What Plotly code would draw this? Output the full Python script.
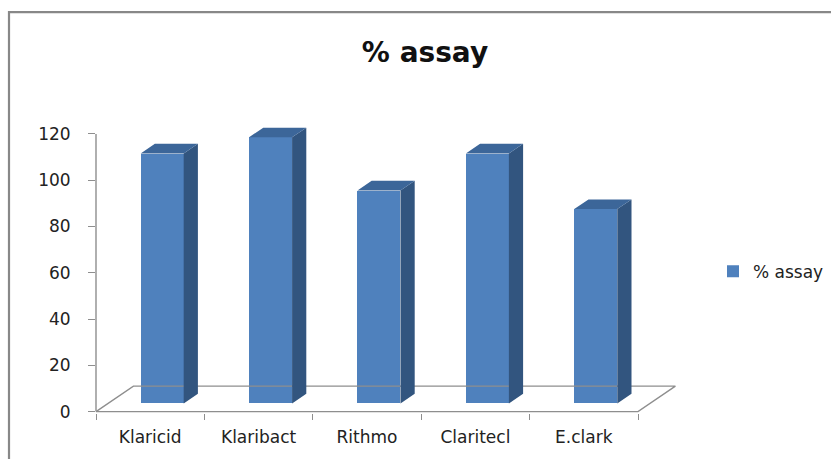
import plotly.graph_objects as go

# ---- data ----
categories = ["Klaricid", "Klaribact", "Rithmo", "Claritecl", "E.clark"]
assay = [108, 115, 92, 108, 84]
y_ticks = [0, 20, 40, 60, 80, 100, 120]
series_name = "% assay"
chart_title = "% assay"

# ---- layout geometry (pixels) ----
W, H = 831, 459
X0_PX, UX = 96.0, 108.4      # pixel of x=-0.5, px per category
Y0_PX, UY = 412.0, 2.317     # pixel of y=0, px per unit
x_range = [-0.5, (825 - X0_PX) / UX - 0.5]
y_range = [-0.6, 126]
L = X0_PX + (x_range[0] + 0.5) * UX
R = W - (X0_PX + (x_range[1] + 0.5) * UX)
T = Y0_PX - y_range[1] * UY
B = H - (Y0_PX - y_range[0] * UY)
PW, PH = W - L - R, H - T - B


def px(xp):
    return (xp - L) / PW


def py(yp):
    return (H - B - yp) / PH


# 3D depth (data units)
DX, DY = 0.345, 11.0     # floor depth
F0, FD = 0.32, 0.38      # bar front depth fraction, bar depth fraction
BW = 0.397               # bar width

FRONT = "#4F81BD"
SIDE = "#32557F"
TOP = "#3C6699"
GRAY = "#8E8E8E"
FONT = "DejaVu Sans"

idx = list(range(len(categories)))
xf = [i + F0 * DX for i in idx]
b0 = F0 * DY
ddx, ddy = FD * DX, FD * DY

side_x, side_y, top_x, top_y = [], [], [], []
for c, v in zip(xf, assay):
    xl, xr = c - BW / 2, c + BW / 2
    side_x += [xr, xr + ddx, xr + ddx, xr, xr, None]
    side_y += [b0, b0 + ddy, b0 + v + ddy, b0 + v, b0, None]
    top_x += [xl, xr, xr + ddx, xl + ddx, xl, None]
    top_y += [b0 + v, b0 + v, b0 + v + ddy, b0 + v + ddy, b0 + v, None]

n = len(categories)
floor_x = [-0.5, n - 0.5, n - 0.5 + DX, -0.5 + DX, -0.5]
floor_y = [0, 0, DY, DY, 0]

fig = go.Figure()
fig.add_trace(go.Scatter(x=floor_x, y=floor_y, mode="lines",
                         line=dict(color=GRAY, width=1.4),
                         showlegend=False, hoverinfo="skip"))
fig.add_trace(go.Bar(x=xf, y=assay, base=b0, width=BW, name=series_name,
                     marker=dict(color=FRONT, line=dict(width=0))))
fig.add_trace(go.Scatter(x=side_x, y=side_y, mode="lines", fill="toself",
                         fillcolor=SIDE, line=dict(width=0, color=SIDE),
                         showlegend=False, hoverinfo="skip", xaxis="x2"))
fig.add_trace(go.Scatter(x=top_x, y=top_y, mode="lines", fill="toself",
                         fillcolor=TOP, line=dict(width=0, color=TOP),
                         showlegend=False, hoverinfo="skip", xaxis="x2"))

shapes = [
    # y-axis line
    dict(type="line", xref="paper", yref="y", x0=0, x1=0, y0=0, y1=y_ticks[-1],
         line=dict(color=GRAY, width=1.4)),
    # outer frame (top and left)
    dict(type="line", xref="paper", yref="paper", x0=px(9), x1=px(W + 5),
         y0=py(12), y1=py(12), line=dict(color="#888888", width=2.2)),
    dict(type="line", xref="paper", yref="paper", x0=px(9), x1=px(9),
         y0=py(11), y1=py(H + 5), line=dict(color="#888888", width=2.2)),
]

fig.update_layout(
    width=W, height=H,
    margin=dict(l=L, r=R, t=T, b=B, pad=0, autoexpand=False),
    paper_bgcolor="white", plot_bgcolor="white",
    font=dict(family=FONT, size=17, color="#222222"),
    title=dict(text=chart_title, x=425 / W, xref="container", xanchor="center",
               y=1 - 52 / H, yref="container", yanchor="middle",
               font=dict(family=FONT, size=28, color="#111111", weight="bold")),
    xaxis=dict(range=x_range, tickmode="array",
               tickvals=[i - 0.5 for i in range(n + 1)],
               showticklabels=False, ticks="outside", ticklen=6,
               tickcolor=GRAY, tickwidth=1.4, showline=False,
               showgrid=False, zeroline=False, fixedrange=True),
    xaxis2=dict(range=x_range, overlaying="x", side="bottom", tickmode="array",
                tickvals=idx, ticktext=categories, ticks="", showline=False,
                showgrid=False, zeroline=False, ticklabelstandoff=12,
                tickfont=dict(family=FONT, size=17, color="#222222")),
    yaxis=dict(range=y_range, tickmode="array", tickvals=y_ticks,
               ticks="outside", ticklen=7, tickcolor=GRAY, tickwidth=1.4,
               showline=False, showgrid=False, zeroline=False,
               ticklabelstandoff=14,
               tickfont=dict(family=FONT, size=17, color="#222222")),
    showlegend=True,
    legend=dict(x=px(713), xanchor="left", y=py(272), yanchor="middle",
                bgcolor="rgba(0,0,0,0)", borderwidth=0,
                font=dict(family=FONT, size=17, color="#222222")),
    shapes=shapes,
    bargap=0,
)

fig.write_html("out.html")
